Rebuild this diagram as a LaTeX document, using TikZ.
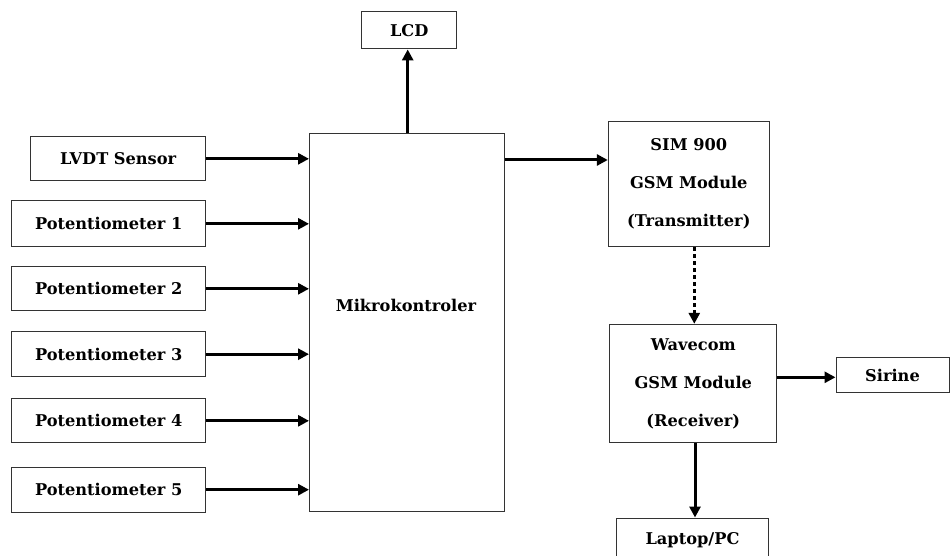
\documentclass[tikz,border=0pt]{standalone}
\usepackage{fontspec}
\setmainfont{DejaVu Serif}
\usetikzlibrary{arrows.meta,calc}
\begin{document}
\begin{tikzpicture}[x=1pt,y=-1pt,
  box/.style={draw=black!80,line width=1pt,fill=white,inner sep=0pt,font=\fontsize{16.2}{38}\selectfont\bfseries,align=center},
  arr/.style={line width=3pt,-{Triangle[length=11pt,width=11pt]}},
  dotarr/.style={line width=3.5pt,dash pattern=on 3.5pt off 3.5pt,-{Triangle[length=11pt,width=11pt]}},
  lbl/.style={font=\fontsize{16.2}{38}\selectfont\bfseries,inner sep=0pt}]
\useasboundingbox (0,0) rectangle (950,556);
% boxes
\node[box,minimum width=175pt,minimum height=44pt] (lvdt) at (118.2,158.8) {LVDT Sensor};
\node[box,minimum width=194pt,minimum height=45.7pt] (p1) at (108.7,223.8) {Potentiometer 1};
\node[box,minimum width=194pt,minimum height=44.3pt] (p2) at (108.7,288.8) {Potentiometer 2};
\node[box,minimum width=194pt,minimum height=45pt] (p3) at (108.7,354.2) {Potentiometer 3};
\node[box,minimum width=194pt,minimum height=43.7pt] (p4) at (108.7,420.8) {Potentiometer 4};
\node[box,minimum width=194pt,minimum height=44.7pt] (p5) at (108.7,489.7) {Potentiometer 5};
\node[box,minimum width=195pt,minimum height=377.5pt] (mk) at (407,322.7) {};
\node[lbl] (mklbl) at (406,305) {Mikrokontroler};
\node[box,minimum width=95pt,minimum height=37.3pt] (lcd) at (409.2,30.3) {LCD};
\node[box,minimum width=161pt,minimum height=125pt] (sim) at (688.8,184.2) {SIM 900\\GSM Module\\(Transmitter)};
\node[box,minimum width=166.7pt,minimum height=118.4pt] (wav) at (693.3,383.5) {Wavecom\\GSM Module\\(Receiver)};
\node[box,minimum width=113pt,minimum height=35.4pt] (sir) at (892.5,375) {Sirine};
\node[box,minimum width=151.6pt,minimum height=44pt] (lap) at (692.5,540) {Laptop/PC};
% helper coordinates
\coordinate (ysim) at (0,160);
\coordinate (xlcd) at (407.7,0);
\coordinate (xdot) at (694.3,0);
\coordinate (ysir) at (0,377.3);
\coordinate (xlap) at (695,0);
% connectors
\foreach \n in {lvdt,p1,p2,p3,p4,p5}
  \draw[arr] (\n.east) -- (\n.east -| mk.west);
\draw[arr] (mk.north -| xlcd) -- (lcd.south -| xlcd);
\draw[arr] (mk.east |- ysim) -- (sim.west |- ysim);
\draw[dotarr] (sim.south -| xdot) -- (wav.north -| xdot);
\draw[arr] (wav.east |- ysir) -- (sir.west |- ysir);
\draw[arr] (wav.south -| xlap) -- (lap.north -| xlap);
\end{tikzpicture}
\end{document}
